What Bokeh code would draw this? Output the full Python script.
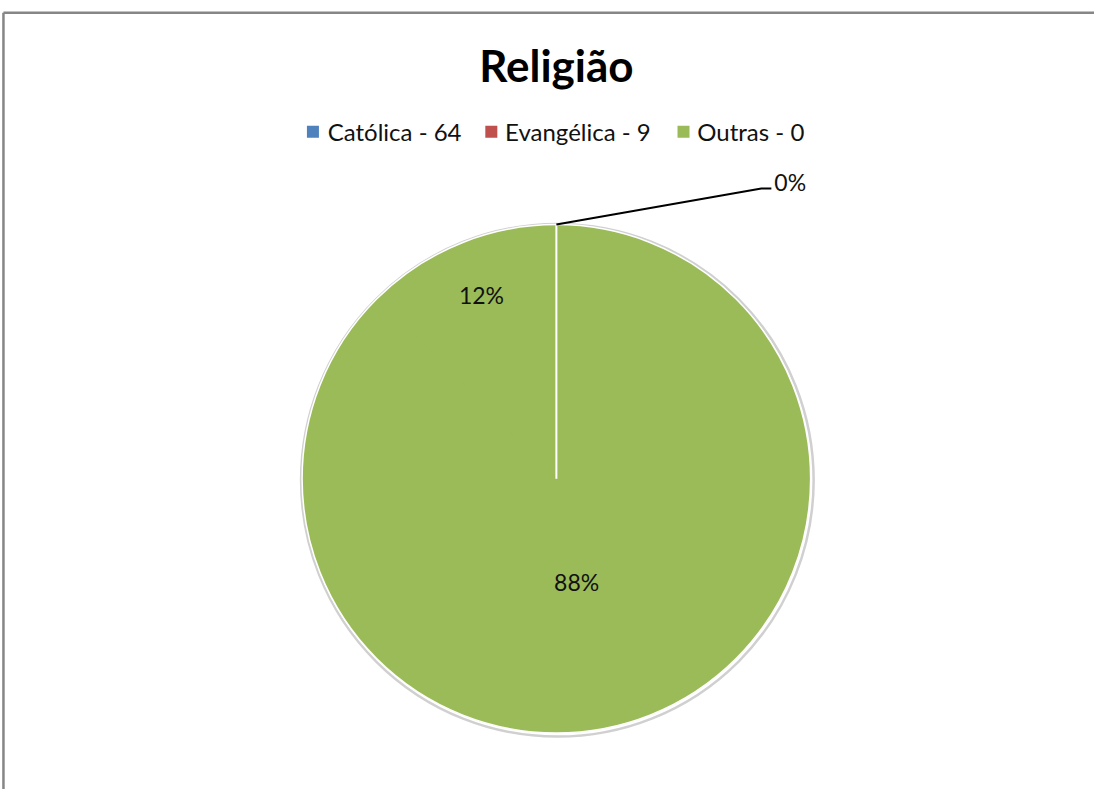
import numpy as np
from bokeh.plotting import figure
from bokeh.models import Range1d, ColumnDataSource
from bokeh.core.properties import value
from bokeh.embed import file_html
from bokeh.resources import INLINE

# ---- data ----
title_text = "Religião"
categories = ["Católica", "Evangélica", "Outras"]
counts = [64, 9, 0]
legend_colors = ["#4F81BD", "#C0504D", "#9BBB59"]
slice_color = "#9BBB59"

W, H = 1094, 789
SX, SY = W / 1110, H / 805
FONT = "Lato"


def X(px):
    return px * SX


def Y(py):
    return H - py * SY


p = figure(width=W, height=H, output_backend="svg", toolbar_location=None,
           x_range=Range1d(0, W), y_range=Range1d(0, H), min_border=0,
           outline_line_color=None, background_fill_color="white")
p.axis.visible = False
p.grid.visible = False

# chart border (top and left visible)
p.segment(x0=[X(3), X(3)], y0=[Y(12.5), Y(12.5)], x1=[W + 5, X(3)], y1=[Y(12.5), -5],
          line_color="#868686", line_width=2.5)

total = sum(counts)
fracs = [c / total for c in counts]
pct = [f"{round(f * 100)}%" for f in fracs]
cum = np.concatenate([[0.0], np.cumsum(fracs)])
th1 = cum[:-1] * 2 * np.pi   # clockwise from 12 o'clock
th2 = cum[1:] * 2 * np.pi
start = np.pi / 2 - th2
end = np.pi / 2 - th1

cx, cy, R = X(564), Y(488), 258 * SX

# soft shadow / rim
p.circle(x=[cx + 1], y=[cy - 1.5], radius=R + 2, fill_color=None,
         line_color="#d0d0d0", line_width=2.5)
# base disc (same colour as slices) to hide anti-aliasing seams
p.circle(x=[cx], y=[cy], radius=R, fill_color=slice_color, line_color=None)

nz = [i for i, c in enumerate(counts) if c > 0]
src = ColumnDataSource(dict(
    start=[start[i] for i in nz], end=[end[i] for i in nz],
    cat=[categories[i] for i in nz]))
p.wedge(x=cx, y=cy, radius=R, start_angle="start", end_angle="end",
        source=src, fill_color=slice_color, line_color=None, direction="anticlock")
p.circle(x=[cx], y=[cy], radius=R, fill_color=None, line_color="white", line_width=1.5)

# white boundary of zero slice (at its start angle)
zero = [i for i, c in enumerate(counts) if c == 0]
for i in zero:
    a = start[i]
    p.segment(x0=[cx], y0=[cy], x1=[cx + R * np.cos(a)], y1=[cy + R * np.sin(a)],
              line_color="white", line_width=2)

# percentage labels
label_r = [0.44, 0.78]
for k, i in enumerate(nz):
    mid = (th1[i] + th2[i]) / 2
    lx = cx + label_r[k] * R * np.sin(mid) - (22 if k == 0 else 0)
    ly = cy + label_r[k] * R * np.cos(mid)
    p.text(x=[lx], y=[ly], text=[pct[i]], text_font=value(FONT),
           text_font_size="23px", text_align="center", text_baseline="middle",
           text_color="#111111")

# leader for zero slice
for i in zero:
    mid = (th1[i] + th2[i]) / 2
    ex, ey = cx + R * np.sin(mid), cy + R * np.cos(mid)
    bx, by = ex + 205, ey + 36
    p.line(x=[ex, bx, bx + 10], y=[ey, by, by], line_color="black", line_width=2)
    p.text(x=[bx + 13], y=[by + 7], text=[pct[i]], text_font=value(FONT),
           text_font_size="23px", text_align="left", text_baseline="middle",
           text_color="#111111")

# title
p.text(x=[X(564)], y=[Y(66)], text=[title_text], text_font=value(FONT),
       text_font_style="bold", text_font_size="44px", text_align="center",
       text_baseline="middle", text_color="black")

# legend
leg_sq_x = [X(317), X(498), X(693)]
leg_tx = [X(332), X(512), X(707)]
ly = Y(134)
labels = [f"{c} - {n}" for c, n in zip(categories, counts)]
p.rect(x=leg_sq_x, y=[ly] * 3, width=12, height=12, fill_color=legend_colors,
       line_color=None)
p.text(x=leg_tx, y=[ly] * 3, text=labels, text_font=value(FONT),
       text_font_size="24px", text_align="left", text_baseline="middle",
       text_color="#111111")

open("out.html", "w").write(file_html(p, INLINE))
